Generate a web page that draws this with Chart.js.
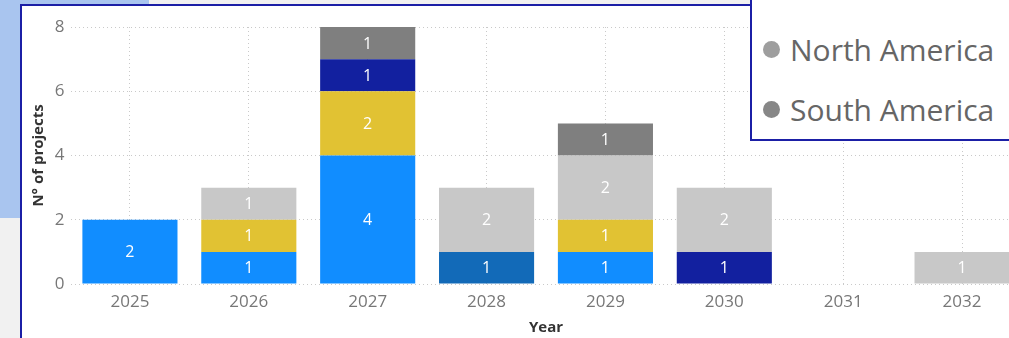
<!DOCTYPE html>
<html>
<head>
<meta charset="utf-8">
<script src="https://cdn.jsdelivr.net/npm/chart.js@4"></script>
<style>
  html, body { margin: 0; padding: 0; width: 1009px; height: 338px; overflow: hidden; background: #f1f1f1; font-family: 'Open Sans', sans-serif; }
  #bluebg { position: absolute; left: 0; top: 0; width: 149px; height: 218px; background: #a9c5ef; }
  #panel { position: absolute; left: 20px; top: 4px; width: 1100px; height: 400px; background: #fff; border-left: 2px solid #1b1fa6; border-top: 2px solid #1b1fa6; }
  #wrap { position: absolute; left: 0; top: 0; width: 1040px; height: 338px; }
  #legend { position: absolute; left: 750px; top: -60px; width: 300px; height: 199px; background: #fff; border-left: 2px solid #1b1fa6; border-bottom: 2px solid #1b1fa6; }
  .item { position: absolute; left: 11px; height: 40px; display: flex; align-items: center; font-size: 30px; color: #666; white-space: nowrap; }
  .dot { width: 17px; height: 17px; border-radius: 50%; margin-right: 10px; flex: none; }
</style>
</head>
<body>
<div id="bluebg"></div>
<div id="panel"></div>
<div id="wrap"><canvas id="c" width="1040" height="338"></canvas></div>
<div id="legend"></div>
<script>
// ---- data ----
const years = ['2025', '2026', '2027', '2028', '2029', '2030', '2031', '2032'];
const middleEast   = [2, 1, 4, null, 1, null, null, null];
const regionB      = [null, null, null, 1, null, null, null, null];
const regionC      = [null, 1, 2, null, 1, null, null, null];
const regionD      = [null, null, 1, null, null, 1, null, null];
const northAmerica = [null, 1, null, 2, 2, 2, null, 1];
const southAmerica = [null, null, 1, null, 1, null, null, null];
const yTicks = [0, 2, 4, 6, 8];
const legendLabels = ['Middle East', 'North America', 'South America'];
const legendColors = ['#118DFF', '#9e9e9e', '#878787'];

// ---- legend (html) ----
const legendEl = document.getElementById('legend');
const rowCenters = [45, 109, 169];
legendLabels.forEach((lab, i) => {
  const d = document.createElement('div');
  d.className = 'item';
  d.style.top = (rowCenters[i] - 20) + 'px';
  d.innerHTML = '<span class="dot" style="background:' + legendColors[i] + '"></span><span>' + lab + '</span>';
  legendEl.appendChild(d);
});

const FONT = "'Segoe UI', 'Open Sans', sans-serif";

const labelPlugin = {
  id: 'segLabels',
  afterDatasetsDraw(chart) {
    const ctx = chart.ctx;
    ctx.save();
    ctx.font = '16px ' + FONT;
    ctx.fillStyle = '#ffffff';
    ctx.textAlign = 'center';
    ctx.textBaseline = 'middle';
    chart.data.datasets.forEach((ds, di) => {
      const meta = chart.getDatasetMeta(di);
      meta.data.forEach((el, i) => {
        const v = ds.data[i];
        if (v == null || v === 0) return;
        const p = el.getProps(['x', 'y', 'base'], true);
        ctx.fillText(String(v), p.x, (p.y + p.base) / 2 + 1);
      });
    });
    ctx.restore();
  }
};

const mk = (label, data, color) => ({ label, data, backgroundColor: color, borderWidth: 0, categoryPercentage: 1.0, barPercentage: 0.8 });

new Chart(document.getElementById('c'), {
  type: 'bar',
  data: {
    labels: years,
    datasets: [
      mk('Middle East', middleEast, '#118DFF'),
      mk('Region B', regionB, '#126AB8'),
      mk('Region C', regionC, '#E1C233'),
      mk('Region D', regionD, '#12209F'),
      mk('North America', northAmerica, '#C8C8C8'),
      mk('South America', southAmerica, '#7F7F7F')
    ]
  },
  options: {
    responsive: false,
    animation: false,
    events: [],
    layout: { padding: { left: 26, right: 18.5, top: 27, bottom: 0 } },
    plugins: { legend: { display: false }, tooltip: { enabled: false } },
    scales: {
      x: {
        stacked: true,
        offset: true,
        grid: { display: true, offset: false, color: '#c9c9c9', lineWidth: 1, drawTicks: false },
        border: { display: false, dash: [1, 3] },
        ticks: { color: '#777', font: { family: FONT, size: 17 }, padding: 8 },
        title: { display: true, text: 'Year', color: '#333', font: { family: FONT, size: 15, weight: 'bold' }, padding: { top: 0, bottom: 1 } },
        afterFit(s) { s.height = 54; }
      },
      y: {
        stacked: true,
        min: 0, max: 8,
        afterBuildTicks(s) { s.ticks = yTicks.map(v => ({ value: v })); },
        grid: { color: '#c9c9c9', lineWidth: 1, drawTicks: false },
        border: { display: false, dash: [1, 3] },
        ticks: { color: '#777', font: { family: FONT, size: 17 }, padding: 6 },
        title: { display: true, text: 'N° of projects', color: '#333', font: { family: FONT, size: 15, weight: 'bold' }, padding: { top: 4, bottom: 0 } },
        afterFit(s) { s.width = 44.5; }
      }
    }
  },
  plugins: [labelPlugin]
});
</script>
</body>
</html>
